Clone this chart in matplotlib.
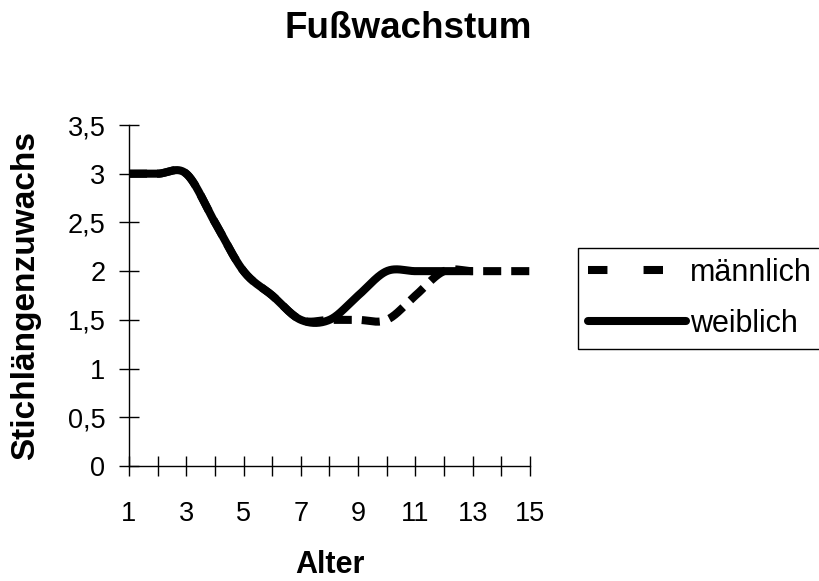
import numpy as np
import matplotlib
matplotlib.use("Agg")
import matplotlib.pyplot as plt
from matplotlib.lines import Line2D

plt.rcParams['font.family'] = ['Liberation Sans', 'DejaVu Sans']
plt.rcParams['lines.scale_dashes'] = False

title = "Fußwachstum"
xlabel = "Alter"
ylabel = "Stichlängenzuwachs"

age_m = [1, 2, 3, 4, 5, 6, 7, 8, 9, 10, 11, 12, 13, 14, 15]
male = [3, 3, 3, 2.5, 2, 1.75, 1.5, 1.5, 1.5, 1.5, 1.75, 2, 2, 2, 2]
age_f = [1, 2, 3, 4, 5, 6, 7, 8, 9, 10, 11, 12, 13]
female = [3, 3, 3, 2.5, 2, 1.75, 1.5, 1.5, 1.75, 2, 2, 2, 2]
labels = ["männlich", "weiblich"]
yticks = [0, 0.5, 1, 1.5, 2, 2.5, 3, 3.5]
ytick_labels = ["0", "0,5", "1", "1,5", "2", "2,5", "3", "3,5"]
xticks = list(range(1, 16))
xtick_labels = [str(v) if v % 2 == 1 else "" for v in xticks]


def smooth(xs, ys, n=40):
    """Catmull-Rom style Bezier smoothing (as Excel's smoothed lines)."""
    P = np.column_stack([xs, ys]).astype(float)
    P = np.vstack([P[0], P, P[-1]])
    out = []
    t = np.linspace(0, 1, n)[:, None]
    for i in range(1, len(P) - 2):
        p0, p1, p2, p3 = P[i - 1], P[i], P[i + 1], P[i + 2]
        c1 = p1 + (p2 - p0) / 6
        c2 = p2 - (p3 - p1) / 6
        seg = ((1 - t) ** 3) * p1 + 3 * ((1 - t) ** 2) * t * c1 + 3 * (1 - t) * t ** 2 * c2 + t ** 3 * p2
        out.append(seg if i == 1 else seg[1:])
    s = np.vstack(out)
    return s[:, 0], s[:, 1]


fig = plt.figure(figsize=(8.2, 5.81), dpi=100)
ax = fig.add_axes([129 / 820, 1 - 466 / 581, (530 - 129) / 820, (466 - 125) / 581])

lw = 5.8
xf, yf = smooth(age_f, female)
xm, ym = smooth(age_m, male)
ax.plot(xf, yf, color='black', lw=lw, solid_capstyle='butt', solid_joinstyle='round', clip_on=False)
ax.plot(xm, ym, color='black', lw=lw, dashes=(13, 7.2), dash_capstyle='butt', clip_on=False)

ax.set_xlim(1, 15)
ax.set_ylim(0, 3.5)
ax.set_xticks(xticks)
ax.set_xticklabels(xtick_labels)
ax.set_yticks(yticks)
ax.set_yticklabels(ytick_labels)
for s in ['top', 'right']:
    ax.spines[s].set_visible(False)
for s in ['left', 'bottom']:
    ax.spines[s].set_linewidth(1.0)
ax.tick_params(axis='both', direction='inout', length=14, width=1.0, colors='black')
ax.tick_params(axis='y', labelsize=19.5, pad=10)
ax.tick_params(axis='x', labelsize=19.5, pad=18)

fig.text(408 / 820, 1 - 38 / 581, title, ha='center', va='baseline', fontsize=26.5, fontweight='bold')
fig.text(329.5 / 820, 1 - 573 / 581, xlabel, ha='center', va='baseline', fontsize=22, fontweight='bold')
fig.text(26 / 820, 1 - 295 / 581, ylabel, ha='center', va='center', rotation=90, fontsize=24, fontweight='bold')

h_m = Line2D([], [], color='black', lw=lw, dashes=(14, 26), dash_capstyle='butt')
h_f = Line2D([], [], color='black', lw=lw, solid_capstyle='round')
leg = fig.legend([h_m, h_f], labels, loc='upper left',
                 bbox_to_anchor=(578 / 820, 1 - 248 / 581, 0.32, 0), mode='expand',
                 fontsize=22, frameon=True, fancybox=False, framealpha=1, edgecolor='black',
                 handlelength=3.2, handletextpad=0.15, labelspacing=0.67, borderpad=0.33,
                 borderaxespad=0)
leg.get_frame().set_linewidth(1.0)

fig.savefig("out.png", dpi=100)
